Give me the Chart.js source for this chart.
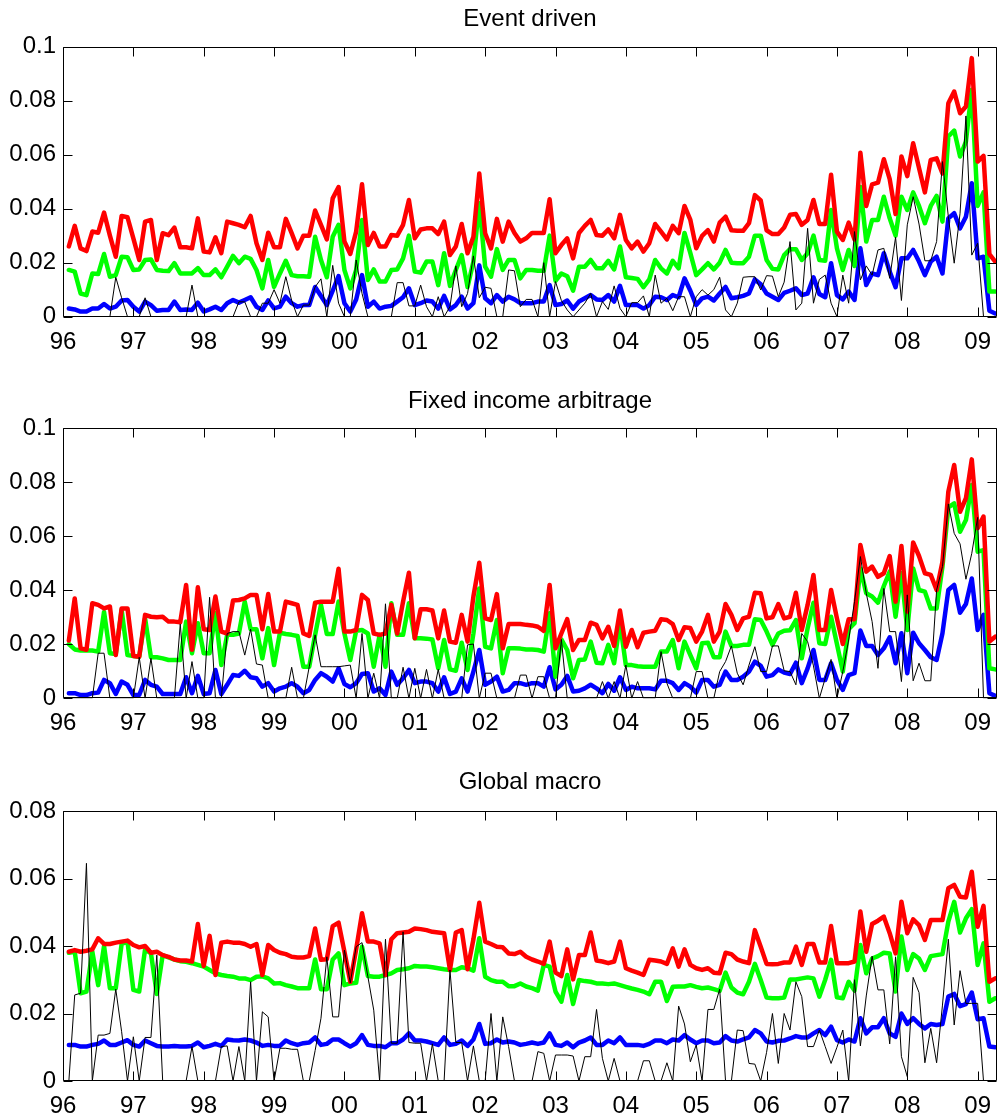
<!DOCTYPE html>
<html>
<head>
<meta charset="utf-8">
<script src="https://cdn.jsdelivr.net/npm/chart.js@4.4.1/dist/chart.umd.min.js"></script>
<style>
  html, body { margin: 0; padding: 0; background: #ffffff; }
  #page { position: relative; width: 998px; height: 1115px; overflow: hidden; background: #ffffff; }
  #page canvas { position: absolute; left: 0; }
</style>
</head>
<body>
<div id="page">
  <canvas id="panelEvent" width="998" height="357" style="top:0px"></canvas>
  <canvas id="panelFixed" width="998" height="360" style="top:380px"></canvas>
  <canvas id="panelMacro" width="998" height="355" style="top:760px"></canvas>
</div>
<script>
// Year labels on the shared monthly axis (tick k sits at month 12*k from Jan 1996)
const yearLabels = ['96','97','98','99','00','01','02','03','04','05','06','07','08','09'];

// y tick labels for each panel
const yTicksEvent = ['0','0.02','0.04','0.06','0.08','0.1'];
const yTicksFixed = ['0','0.02','0.04','0.06','0.08','0.1'];
const yTicksMacro = ['0','0.02','0.04','0.06','0.08'];

const panelTitles = ['Event driven', 'Fixed income arbitrage', 'Global macro'];

// ---- Event driven: monthly series (one row per year) ----
const eventUpper = [
  0.026,0.0336,0.0253,0.0243,0.0315,0.0311,0.0385,0.030,0.0222,0.0373,0.0368,0.029,
  0.021,0.0352,0.0358,0.021,0.0309,0.0302,0.033,0.0257,0.0257,0.0253,0.0364,0.0241,
  0.0238,0.0294,0.0235,0.0352,0.0346,0.034,0.0331,0.0373,0.0272,0.021,0.0311,0.0257,
  0.0257,0.0362,0.0309,0.0253,0.030,0.030,0.0393,0.034,0.0286,0.0438,0.048,0.0278,
  0.0232,0.0315,0.049,0.0265,0.031,0.026,0.026,0.0302,0.030,0.034,0.0432,0.029,
  0.0323,0.0327,0.0327,0.0306,0.0352,0.0228,0.026,0.0343,0.0235,0.0296,0.053,0.0309,
  0.0253,0.0362,0.0278,0.0352,0.031,0.0278,0.029,0.031,0.031,0.031,0.0435,0.0235,
  0.0265,0.029,0.0216,0.031,0.0336,0.0358,0.0302,0.030,0.0323,0.029,0.0377,0.0284,
  0.0253,0.0278,0.0241,0.0272,0.0343,0.0315,0.0286,0.0336,0.0309,0.041,0.0358,0.0253,
  0.0299,0.032,0.0278,0.0348,0.037,0.032,0.0318,0.0318,0.0346,0.045,0.043,0.032,
  0.0306,0.0306,0.033,0.0377,0.038,0.034,0.0358,0.0432,0.0343,0.0343,0.0525,0.0315,
  0.0284,0.0348,0.0286,0.0607,0.041,0.049,0.0496,0.0583,0.0509,0.038,0.0593,0.052,
  0.0642,0.055,0.046,0.058,0.0586,0.053,0.079,0.0833,0.0753,0.0778,0.0957,0.0574,
  0.0595,0.0232,0.0204
];
const eventMid = [
  0.0173,0.0167,0.0086,0.008,0.016,0.0158,0.0232,0.0148,0.0154,0.0222,0.022,0.0173,
  0.0175,0.021,0.0212,0.0173,0.017,0.0169,0.0198,0.016,0.016,0.016,0.018,0.0154,
  0.0154,0.0175,0.0146,0.0185,0.0225,0.0198,0.0222,0.0214,0.0173,0.0105,0.021,0.011,
  0.016,0.0207,0.0154,0.015,0.015,0.0148,0.0296,0.021,0.0146,0.0296,0.034,0.0173,
  0.0105,0.0173,0.0358,0.0136,0.0175,0.013,0.013,0.0173,0.0175,0.0216,0.030,0.0167,
  0.0163,0.0204,0.0204,0.0117,0.0235,0.0114,0.0173,0.0228,0.011,0.0204,0.042,0.0185,
  0.0148,0.025,0.0173,0.021,0.021,0.0142,0.0173,0.0173,0.017,0.017,0.030,0.0133,
  0.016,0.015,0.0096,0.0185,0.0185,0.021,0.0179,0.0179,0.0207,0.0175,0.026,0.0146,
  0.0143,0.014,0.0109,0.0138,0.021,0.0179,0.016,0.0207,0.0179,0.031,0.0235,0.0154,
  0.0175,0.0198,0.0175,0.020,0.0247,0.020,0.0198,0.0198,0.0222,0.030,0.030,0.021,
  0.0177,0.0175,0.0228,0.025,0.025,0.021,0.0235,0.030,0.021,0.0207,0.0395,0.0253,
  0.0173,0.0247,0.0188,0.048,0.0278,0.0358,0.0358,0.0444,0.0364,0.030,0.0444,0.0395,
  0.046,0.041,0.0346,0.041,0.0447,0.0352,0.0667,0.0689,0.0593,0.0648,0.084,0.041,
  0.046,0.0093,0.0093
];
const eventLower = [
  0.003,0.0027,0.0019,0.0019,0.003,0.003,0.0047,0.003,0.0037,0.006,0.0062,0.0037,
  0.0019,0.0056,0.0043,0.0022,0.0025,0.0025,0.0056,0.0025,0.0027,0.0025,0.0052,0.0019,
  0.0027,0.0037,0.0025,0.005,0.0062,0.0052,0.0062,0.0072,0.0037,0.0025,0.006,0.0031,
  0.0037,0.0074,0.005,0.0037,0.0043,0.0043,0.011,0.0077,0.0043,0.0096,0.015,0.005,
  0.0019,0.0064,0.0154,0.0037,0.0056,0.003,0.0037,0.004,0.0056,0.0072,0.0105,0.0043,
  0.005,0.006,0.0056,0.003,0.0077,0.0027,0.0043,0.0074,0.003,0.005,0.019,0.0068,
  0.005,0.008,0.0056,0.0074,0.0064,0.005,0.005,0.005,0.0056,0.0056,0.0117,0.0043,
  0.0047,0.006,0.003,0.0056,0.0068,0.008,0.0064,0.0062,0.008,0.0056,0.0114,0.0043,
  0.0043,0.0043,0.003,0.0043,0.0074,0.0072,0.0062,0.008,0.0072,0.0142,0.0096,0.0043,
  0.0068,0.0074,0.006,0.0086,0.011,0.0068,0.0072,0.0077,0.0086,0.0138,0.012,0.0086,
  0.0074,0.0062,0.0088,0.0096,0.0105,0.008,0.0086,0.0146,0.0084,0.0072,0.0198,0.008,
  0.0064,0.0093,0.0062,0.0253,0.0117,0.016,0.0154,0.0235,0.0167,0.0109,0.0216,0.0216,
  0.0247,0.0204,0.0154,0.0204,0.0222,0.016,0.0364,0.0383,0.0327,0.037,0.0494,0.0216,
  0.0222,0.0022,0.0012
];
const eventActual = [
  0,0,0,0,0,0,0,0,0.0146,0.007,0,0,
  0,0.007,0,0,0,0,0,0,0,0.0117,0,0,
  0,0,0,0,0,0.0055,0.0055,0,0,0.005,0.005,0.01,
  0.005,0.0148,0.006,0,0.0043,0.0043,0.011,0.014,0,0.019,0.005,0,
  0,0.021,0.0086,0,0,0,0,0,0.0126,0.0126,0.004,0.004,
  0.0117,0.0037,0,0.0074,0,0.0037,0.0188,0.0037,0.0086,0.0225,0.007,0.0109,
  0.0105,0,0,0.0173,0.017,0.0037,0.0064,0.0064,0,0.02,0,0.013,
  0.006,0.0025,0,0.0025,0.005,0.0086,0,0.0056,0.0027,0.0114,0.0031,0,
  0.0052,0.0052,0.0077,0,0.0154,0.005,0.0068,0.0022,0.0074,0.0074,0,0.0074,
  0.01,0.008,0.01,0.0146,0.0025,0,0.005,0.0146,0.0148,0.0148,0.0099,0.0152,
  0.015,0.0074,0.0128,0.0278,0.0025,0.005,0.0327,0.005,0.0138,0.0154,0.005,0,
  0.0154,0.005,0.0315,0.0136,0.0188,0.0154,0.0247,0.0253,0.0142,0.0294,0.006,0.034,
  0.0444,0.0343,0.0207,0.0207,0.0278,0.0574,0.037,0.0198,0.0383,0.0743,0.0228,0.0272,
  0,0,0
];

// ---- Fixed income arbitrage ----
const fixedUpper = [
  0.0214,0.037,0.0185,0.018,0.0352,0.0346,0.0333,0.034,0.016,0.0333,0.0333,0.0157,
  0.0154,0.0309,0.0302,0.030,0.0302,0.0284,0.0284,0.0282,0.042,0.018,0.0411,0.0256,
  0.0253,0.0377,0.0247,0.024,0.0362,0.0364,0.037,0.0383,0.0383,0.0256,0.0386,0.0247,
  0.0247,0.0358,0.0352,0.0346,0.024,0.0231,0.0354,0.0358,0.0358,0.0358,0.048,0.0247,
  0.0247,0.0253,0.0383,0.0364,0.024,0.0235,0.024,0.0346,0.024,0.0358,0.0465,0.0222,
  0.033,0.033,0.0325,0.0222,0.0325,0.021,0.0206,0.0309,0.021,0.0377,0.0502,0.0296,
  0.029,0.0386,0.0185,0.0275,0.0275,0.0275,0.0272,0.027,0.0265,0.025,0.042,0.0185,
  0.024,0.0293,0.0179,0.0216,0.0216,0.028,0.0272,0.0222,0.0265,0.0194,0.0325,0.0191,
  0.0253,0.0189,0.0243,0.0247,0.025,0.0293,0.029,0.0275,0.0216,0.0263,0.026,0.021,
  0.0247,0.0309,0.021,0.0247,0.0349,0.0309,0.0253,0.0296,0.0302,0.0391,0.0389,0.0296,
  0.030,0.0349,0.0296,0.0302,0.0391,0.0253,0.0346,0.0457,0.0253,0.0253,0.0401,0.0296,
  0.0201,0.0293,0.0293,0.0568,0.0469,0.0488,0.045,0.0463,0.0527,0.0358,0.0564,0.0321,
  0.0577,0.0527,0.0463,0.0457,0.0401,0.0506,0.0765,0.0864,0.0691,0.0741,0.0885,0.063,
  0.0673,0.021,0.0228
];
const fixedMid = [
  0.0201,0.0181,0.0177,0.0177,0.0177,0.0173,0.032,0.0167,0.0164,0.0327,0.016,0.0157,
  0.0154,0.0296,0.0152,0.0152,0.0148,0.0142,0.0142,0.0142,0.0284,0.0167,0.0278,0.0167,
  0.0167,0.0315,0.0123,0.0235,0.0235,0.024,0.0358,0.0256,0.0256,0.0148,0.026,0.0123,
  0.0243,0.0238,0.0235,0.0231,0.0117,0.0117,0.0235,0.0346,0.0238,0.0238,0.0358,0.024,
  0.0142,0.025,0.0253,0.024,0.0117,0.0235,0.0117,0.0352,0.0235,0.0235,0.0352,0.0222,
  0.0222,0.0221,0.0218,0.0111,0.0216,0.0107,0.0102,0.0206,0.0105,0.024,0.0407,0.0191,
  0.0185,0.029,0.0093,0.0185,0.0185,0.0184,0.0181,0.0181,0.0179,0.0173,0.0315,0.008,
  0.0218,0.0179,0.0074,0.0142,0.0144,0.021,0.0132,0.013,0.0198,0.013,0.028,0.0123,
  0.0123,0.0119,0.0117,0.0117,0.0117,0.0173,0.0173,0.0216,0.0111,0.021,0.016,0.0111,
  0.0204,0.0206,0.0152,0.0152,0.0247,0.0194,0.0194,0.0198,0.0198,0.0293,0.029,0.0247,
  0.0198,0.024,0.025,0.0252,0.029,0.0148,0.0259,0.0354,0.0204,0.0201,0.0302,0.0201,
  0.0099,0.0256,0.0278,0.0481,0.0389,0.0377,0.0354,0.0416,0.0469,0.0302,0.0463,0.0253,
  0.0481,0.0401,0.0395,0.0333,0.0333,0.0488,0.0707,0.0722,0.0617,0.066,0.079,0.0543,
  0.0549,0.0111,0.0107
];
const fixedLower = [
  0.0019,0.0019,0.0012,0.0012,0.0019,0.0021,0.0068,0.0056,0.0016,0.0062,0.005,0.0012,
  0.0012,0.0068,0.005,0.0043,0.0016,0.0016,0.0016,0.0016,0.0078,0.0019,0.0083,0.0016,
  0.0019,0.0105,0.0016,0.005,0.0086,0.0083,0.0102,0.0078,0.0074,0.0043,0.0056,0.0025,
  0.0037,0.0043,0.0056,0.0043,0.0019,0.0031,0.0068,0.0093,0.008,0.0062,0.0111,0.0053,
  0.0041,0.0056,0.009,0.0093,0.0025,0.0037,0.0012,0.0099,0.005,0.0074,0.0105,0.0056,
  0.0062,0.0062,0.0056,0.0025,0.0078,0.0016,0.0025,0.0074,0.0025,0.0099,0.0179,0.005,
  0.0062,0.008,0.0025,0.0031,0.0056,0.0056,0.005,0.0056,0.0056,0.0043,0.0115,0.0033,
  0.005,0.0083,0.0025,0.0028,0.0037,0.005,0.0037,0.0019,0.0053,0.0028,0.0078,0.0031,
  0.0043,0.0037,0.0037,0.0037,0.0033,0.0065,0.0065,0.0056,0.0031,0.0056,0.0043,0.0021,
  0.0068,0.0068,0.0043,0.005,0.0099,0.0068,0.0068,0.008,0.0099,0.0136,0.012,0.008,
  0.0086,0.0107,0.0095,0.009,0.0132,0.0056,0.0111,0.0179,0.0068,0.0068,0.013,0.0068,
  0.0031,0.0086,0.0093,0.0251,0.0194,0.0194,0.016,0.0185,0.0226,0.013,0.0241,0.0093,
  0.0243,0.0204,0.0179,0.0152,0.0142,0.0241,0.0401,0.042,0.0317,0.0349,0.0444,0.0253,
  0.0309,0.0019,0.0009
];
const fixedActual = [
  0,0,0,0,0,0.0167,0.0167,0,0,0,0,0,
  0.0152,0,0.0148,0,0,0,0,0.0275,0,0.0136,0,0,
  0.0374,0,0,0.024,0.0247,0.0247,0.016,0.0256,0.0127,0.0123,0,0,
  0,0,0.0115,0,0,0.0117,0.0235,0.0117,0.0117,0.0117,0.0117,0.012,
  0.0123,0,0.024,0,0.0093,0,0.035,0,0,0.0115,0,0.0111,
  0,0.0107,0,0.0107,0,0,0,0,0.0198,0.0201,0,0.0093,
  0.0093,0,0,0,0,0.0086,0.0086,0,0.008,0.008,0,0,
  0.0218,0,0,0,0,0,0,0.0062,0,0.0062,0,0.0123,
  0,0.0062,0,0,0,0.0173,0.0056,0,0,0,0,0.0099,
  0.0099,0,0,0.0099,0.0136,0.0194,0.0093,0.005,0.0123,0.0191,0.0099,0.0099,
  0.0194,0.0194,0.0102,0.0099,0.005,0.024,0.021,0.012,0,0.0074,0.0144,0,
  0.0099,0.0216,0.0358,0.0525,0.0389,0.0284,0.0111,0.0407,0.0247,0.0247,0.0062,0.0383,
  0.0065,0.013,0.0065,0.0065,0.0401,0.0488,0.072,0.0611,0.0572,0.0441,0.0537,0.067,
  0,0,0
];

// ---- Global macro ----
const macroUpper = [
  0.0383,0.0388,0.0383,0.0386,0.039,0.0423,0.0406,0.0406,0.041,0.0413,0.0416,0.0403,
  0.0396,0.04,0.038,0.0383,0.0373,0.0368,0.036,0.0357,0.0357,0.0354,0.0465,0.0341,
  0.043,0.0314,0.041,0.0413,0.041,0.041,0.0406,0.0398,0.0406,0.0314,0.0403,0.0388,
  0.038,0.0376,0.0368,0.0366,0.0366,0.037,0.0452,0.0359,0.0361,0.0459,0.0469,0.0383,
  0.0294,0.039,0.0497,0.0413,0.0413,0.0408,0.0314,0.042,0.0438,0.044,0.0442,0.0452,
  0.045,0.0447,0.0442,0.044,0.0438,0.0329,0.044,0.0447,0.0331,0.042,0.0528,0.0413,
  0.0406,0.0398,0.0396,0.0378,0.0376,0.0383,0.0368,0.036,0.0354,0.0347,0.0413,0.0321,
  0.0311,0.039,0.0301,0.0373,0.0373,0.044,0.0357,0.0354,0.0349,0.0354,0.0413,0.0334,
  0.0327,0.0321,0.0314,0.0359,0.0357,0.0354,0.0347,0.0393,0.0339,0.039,0.0344,0.0334,
  0.0329,0.0334,0.0321,0.0319,0.038,0.0376,0.036,0.0354,0.0349,0.0447,0.0398,0.0347,
  0.0346,0.0347,0.0351,0.0351,0.0398,0.0344,0.0406,0.0406,0.0351,0.0351,0.0459,0.0349,
  0.0349,0.0349,0.0354,0.0502,0.0383,0.0465,0.0475,0.0487,0.0438,0.0378,0.0531,0.0438,
  0.0479,0.0462,0.0418,0.0477,0.0477,0.0477,0.0571,0.0581,0.0546,0.0544,0.062,0.0457,
  0.0519,0.0294,0.0304
];
const macroMid = [
  0.038,0.0383,0.026,0.0265,0.0383,0.0284,0.04,0.0275,0.0275,0.0406,0.0413,0.027,
  0.0265,0.039,0.0378,0.0258,0.0373,0.0366,0.036,0.0355,0.0353,0.0349,0.0344,0.0339,
  0.0329,0.0319,0.0314,0.0311,0.0309,0.0304,0.0304,0.0299,0.0309,0.031,0.0304,0.0289,
  0.029,0.0284,0.028,0.0275,0.0275,0.0275,0.036,0.0272,0.0272,0.036,0.0378,0.0284,
  0.0289,0.0291,0.0398,0.0311,0.0309,0.0309,0.0314,0.0319,0.0329,0.0331,0.0334,0.0341,
  0.0339,0.0339,0.0337,0.0334,0.0331,0.0329,0.0329,0.0337,0.0334,0.0327,0.0423,0.0309,
  0.0299,0.0294,0.0294,0.0281,0.0281,0.0289,0.028,0.0275,0.0268,0.0344,0.0339,0.0265,
  0.0235,0.0314,0.0228,0.0299,0.0296,0.0294,0.0289,0.0289,0.0287,0.0289,0.0284,0.0279,
  0.0274,0.027,0.0265,0.0257,0.0294,0.0294,0.0237,0.0279,0.028,0.028,0.0284,0.0279,
  0.0275,0.0277,0.0272,0.0267,0.0321,0.0277,0.0262,0.0257,0.0294,0.0347,0.0299,0.0247,
  0.0245,0.0245,0.0247,0.0301,0.0301,0.0304,0.0307,0.0304,0.025,0.030,0.0359,0.0248,
  0.0245,0.0294,0.0268,0.0403,0.0319,0.0363,0.037,0.038,0.0378,0.0265,0.0428,0.0329,
  0.0376,0.0363,0.0329,0.037,0.0373,0.0376,0.0472,0.0531,0.044,0.0482,0.0509,0.0344,
  0.0408,0.0235,0.0245
];
const macroLower = [
  0.0107,0.0107,0.0102,0.0102,0.0107,0.011,0.012,0.0107,0.0107,0.0114,0.0121,0.0107,
  0.0102,0.012,0.0112,0.0104,0.0102,0.0102,0.0104,0.0102,0.0102,0.0104,0.0114,0.01,
  0.0104,0.011,0.0104,0.0123,0.0121,0.012,0.0123,0.012,0.0114,0.0104,0.0107,0.0104,
  0.0104,0.012,0.0112,0.0107,0.0112,0.0114,0.0129,0.0107,0.011,0.0123,0.0123,0.0112,
  0.0102,0.0112,0.0136,0.0107,0.0104,0.0104,0.01,0.0112,0.0112,0.0123,0.0141,0.012,
  0.012,0.0117,0.0112,0.0107,0.0129,0.0107,0.011,0.012,0.0104,0.0123,0.0169,0.011,
  0.0112,0.0123,0.0114,0.0117,0.0114,0.0107,0.011,0.0114,0.011,0.0114,0.0141,0.0107,
  0.0104,0.0114,0.01,0.0114,0.012,0.0129,0.0107,0.0107,0.012,0.0112,0.0129,0.0107,
  0.0107,0.0107,0.0104,0.011,0.012,0.012,0.0112,0.0123,0.012,0.0136,0.0123,0.0112,
  0.012,0.012,0.0112,0.0114,0.0133,0.012,0.0117,0.0123,0.0129,0.0151,0.0141,0.0117,
  0.0114,0.0119,0.012,0.0126,0.0133,0.0129,0.0129,0.0141,0.0151,0.0136,0.0161,0.0121,
  0.0114,0.0123,0.0117,0.0186,0.0141,0.0159,0.0159,0.0186,0.0141,0.0131,0.02,0.0169,
  0.0186,0.0169,0.0156,0.0169,0.0166,0.0169,0.025,0.0258,0.0222,0.0228,0.0262,0.0183,
  0.0186,0.0102,0.01
];
const macroActual = [
  0,0.0255,0.026,0.0645,0,0.0136,0.0136,0.0141,0.0272,0.0146,0,0.0131,
  0,0.0129,0.0129,0.0373,0,0,0,0,0,0.0102,0,0,
  0,0,0.0102,0.0104,0,0.0102,0,0.0294,0,0.0205,0.019,0,
  0.0097,0.0097,0.0094,0.0094,0,0,0.009,0.0186,0.0368,0.019,0.019,0.0388,
  0.0291,0.0398,0.041,0.0309,0.021,0,0.042,0.0112,0.0112,0.0442,0.0114,0.0112,
  0.0112,0,0.011,0,0,0.0329,0.0114,0.0114,0,0.0104,0,0,
  0.02,0,0.019,0.0102,0,0,0,0,0.0087,0.0082,0,0.0077,
  0.0077,0.0077,0.0074,0,0.0072,0.0072,0.0212,0.0067,0,0.0067,0,0,
  0,0,0.006,0.006,0,0,0.0054,0,0.0222,0.0169,0.0057,0.0107,
  0,0.0212,0.0212,0.0272,0,0,0.0151,0.0149,0.0052,0.005,0,0.0085,
  0.02,0.0052,0.02,0.0151,0.0294,0.025,0.0102,0.0102,0.0151,0.0102,0.0052,0.01,
  0.0151,0,0.03,0.0104,0.0252,0.037,0.027,0.027,0.011,0.0368,0.0072,0.0013,
  0.0307,0.0262,0.0054,0.0156,0.0054,0.0225,0.042,0.0166,0.0327,0.023,0.023,0.023,
  0,0,0
];

// ---- drawing ----
const FONT = '"Liberation Sans", Arial, Helvetica, sans-serif';
const FONT_SIZE = 24;
const TICK_LEN = 9;
Chart.defaults.font.family = FONT;
Chart.defaults.font.size = FONT_SIZE;
Chart.defaults.color = '#000000';

// Box around the plot area with inward tick marks on all four sides
const frameBox = {
  id: 'frameBox',
  afterDatasetsDraw(chart) {
    const { ctx, chartArea: a, scales } = chart;
    const xs = scales.x, ys = scales.y;
    const L = Math.round(a.left) + 0.5, R = Math.round(a.right) - 0.5;
    const T = Math.round(a.top) + 0.5, B = Math.round(a.bottom) - 0.5;
    ctx.save();
    ctx.strokeStyle = '#000000';
    ctx.lineWidth = 1;
    ctx.beginPath();
    ctx.rect(L, T, R - L, B - T);
    xs.ticks.forEach(t => {
      const px = Math.round(xs.getPixelForValue(t.value)) + 0.5;
      ctx.moveTo(px, B); ctx.lineTo(px, B - TICK_LEN);
      ctx.moveTo(px, T); ctx.lineTo(px, T + TICK_LEN);
    });
    ys.ticks.forEach(t => {
      const py = Math.round(ys.getPixelForValue(t.value)) + 0.5;
      ctx.moveTo(L, py); ctx.lineTo(L + TICK_LEN, py);
      ctx.moveTo(R, py); ctx.lineTo(R - TICK_LEN, py);
    });
    ctx.stroke();
    ctx.restore();
  }
};

const LAST_MONTH = 159.3;   // right edge of the monthly axis

function toPoints(values) {
  return values.map((v, i) => ({ x: i + 1, y: v }));
}

function lineSet(values, color, width) {
  return {
    data: toPoints(values),
    borderColor: color,
    backgroundColor: color,
    borderWidth: width,
    pointRadius: 0,
    tension: 0,
    fill: false,
    borderJoinStyle: 'round',
    borderCapStyle: 'round',
    clip: 0
  };
}

function drawPanel(id, title, series, yLabels, geo) {
  const canvas = document.getElementById(id);
  const yMax = Number(yLabels[yLabels.length - 1]);
  new Chart(canvas, {
    type: 'line',
    data: {
      datasets: [
        lineSet(series.actual, '#000000', 1),
        lineSet(series.upper, '#ff0000', 4.5),
        lineSet(series.mid, '#00ff00', 4.5),
        lineSet(series.lower, '#0000ff', 4.5)
      ]
    },
    options: {
      responsive: false,
      devicePixelRatio: 1,
      animation: false,
      events: [],
      layout: { padding: { left: 0, right: 1, top: 0, bottom: 0 } },
      plugins: {
        legend: { display: false },
        tooltip: { enabled: false },
        title: {
          display: true,
          fullSize: false,
          text: title,
          color: '#000000',
          font: { family: FONT, size: FONT_SIZE, weight: 'normal' },
          padding: { top: geo.titlePadTop, bottom: geo.titleBlock - geo.titlePadTop - FONT_SIZE * 1.2 }
        }
      },
      scales: {
        x: {
          type: 'linear',
          min: 0,
          max: LAST_MONTH,
          grid: { display: false, drawTicks: false },
          border: { display: false },
          ticks: {
            autoSkip: false,
            maxRotation: 0,
            padding: geo.xLabelPad,
            color: '#000000',
            callback: (v, i) => yearLabels[i]
          },
          afterBuildTicks: s => { s.ticks = yearLabels.map((_, k) => ({ value: 12 * k })); },
          afterFit: s => { s.height = geo.xAxisHeight; s.paddingLeft = 0; s.paddingRight = 0; }
        },
        y: {
          type: 'linear',
          min: 0,
          max: yMax,
          grid: { display: false, drawTicks: false },
          border: { display: false },
          ticks: {
            padding: 7,
            color: '#000000',
            callback: (v, i) => yLabels[i]
          },
          afterBuildTicks: s => { s.ticks = yLabels.map(lbl => ({ value: Number(lbl) })); },
          afterFit: s => { s.width = 63; s.paddingTop = 0; s.paddingBottom = 0; }
        }
      }
    },
    plugins: [frameBox]
  });
}

drawPanel('panelEvent', panelTitles[0],
  { upper: eventUpper, mid: eventMid, lower: eventLower, actual: eventActual },
  yTicksEvent, { titleBlock: 46.5, titlePadTop: 5, xAxisHeight: 357 - 316.7, xLabelPad: 11 });

drawPanel('panelFixed', panelTitles[1],
  { upper: fixedUpper, mid: fixedMid, lower: fixedLower, actual: fixedActual },
  yTicksFixed, { titleBlock: 48.3, titlePadTop: 6.6, xAxisHeight: 360 - 318.3, xLabelPad: 11 });

drawPanel('panelMacro', panelTitles[2],
  { upper: macroUpper, mid: macroMid, lower: macroLower, actual: macroActual },
  yTicksMacro, { titleBlock: 51, titlePadTop: 7.6, xAxisHeight: 355 - 321, xLabelPad: 11 });
</script>
</body>
</html>
